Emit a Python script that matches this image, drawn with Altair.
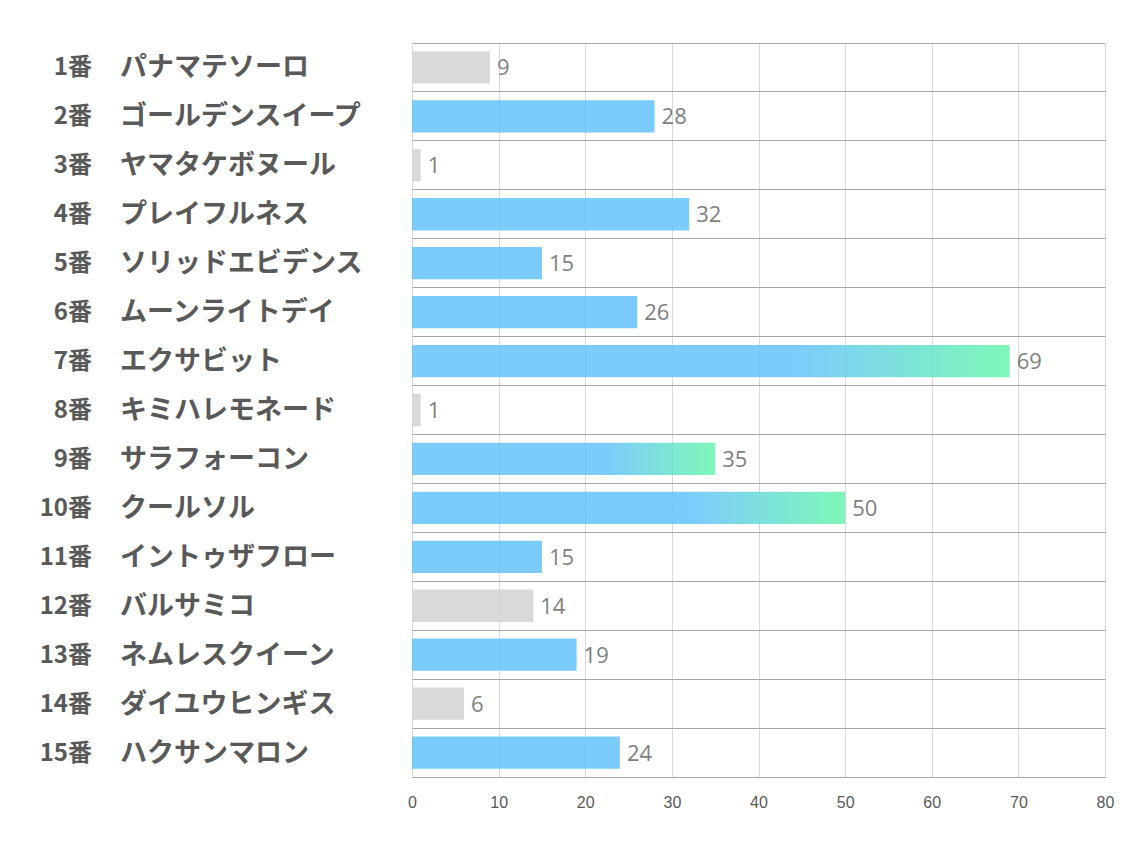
import altair as alt
import pandas as pd

numbers = ["1番", "2番", "3番", "4番", "5番", "6番", "7番", "8番", "9番", "10番",
           "11番", "12番", "13番", "14番", "15番"]
names = ["パナマテソーロ", "ゴールデンスイープ", "ヤマタケボヌール", "プレイフルネス",
         "ソリッドエビデンス", "ムーンライトデイ", "エクサビット", "キミハレモネード",
         "サラフォーコン", "クールソル", "イントゥザフロー", "バルサミコ",
         "ネムレスクイーン", "ダイユウヒンギス", "ハクサンマロン"]
values = [9, 28, 1, 32, 15, 26, 69, 1, 35, 50, 15, 14, 19, 6, 24]
groups = ["gray", "blue", "gray", "blue", "blue", "blue", "grad", "gray",
          "grad", "grad", "blue", "gray", "blue", "gray", "blue"]
x_ticks = [0, 10, 20, 30, 40, 50, 60, 70, 80]

df = pd.DataFrame({"num": numbers, "name": names, "value": values, "group": groups})

W, H = 693, 734

y_enc = alt.Y("num:N", sort=numbers,
              scale=alt.Scale(paddingInner=0, paddingOuter=0),
              axis=alt.Axis(title=None, labels=False, ticks=False, domain=False,
                            grid=True, gridColor="#a6a6a6", gridWidth=1,
                            bandPosition=0))
x_scale = alt.Scale(domain=[0, 80], nice=False, zero=True)
x_enc = alt.X("value:Q", scale=x_scale,
              axis=alt.Axis(title=None, values=x_ticks, grid=True, gridColor="#d9d9d9",
                            ticks=False, domain=True, domainColor="#a6a6a6",
                            labelFont="Liberation Sans", labelFontSize=16,
                            labelColor="#595959", labelPadding=17, labelFlush=False))

base = alt.Chart(df)

gray_bars = base.transform_filter(alt.datum.group == "gray").mark_bar(
    color="#d2d2d2", opacity=0.85, height={"band": 0.66}
).encode(x=x_enc, y=y_enc)

blue_bars = base.transform_filter(alt.datum.group == "blue").mark_bar(
    color="#65c2fd", opacity=0.85, height={"band": 0.66}
).encode(x=x_enc, y=y_enc)

grad = alt.Gradient(
    gradient="linear",
    stops=[alt.GradientStop(color="#65c2fd", offset=0),
           alt.GradientStop(color="#65c2fd", offset=0.64),
           alt.GradientStop(color="#68f6ac", offset=1)],
    x1=0, x2=1, y1=0, y2=0,
)
grad_bars = base.transform_filter(alt.datum.group == "grad").mark_bar(
    color=grad, opacity=0.85, height={"band": 0.66}
).encode(x=x_enc, y=y_enc)

value_labels = base.mark_text(
    align="left", baseline="middle", dx=7, dy=1, font="Open Sans", fontSize=22,
    color="#7f7f7f"
).encode(x=x_enc, y=y_enc, text="value:Q")

num_labels = base.mark_text(
    align="right", baseline="middle", dy=1, font="Noto Sans CJK JP", fontWeight="bold",
    fontSize=24, color="#595959"
).encode(x=alt.value(-320), y=y_enc, text="num:N")

name_labels = base.mark_text(
    align="left", baseline="middle", dy=1, font="Noto Sans CJK JP", fontWeight="bold",
    fontSize=27, color="#595959"
).encode(x=alt.value(-292), y=y_enc, text="name:N")

chart = alt.layer(
    gray_bars, blue_bars, grad_bars, value_labels, num_labels, name_labels
).properties(
    width=W, height=H,
    autosize=alt.AutoSizeParams(type="none"),
    padding={"left": 412, "top": 43, "right": 29, "bottom": 73},
).configure_view(stroke=None).configure(background="white")

chart.save("out.html", embed_options={"renderer": "svg", "actions": False})
